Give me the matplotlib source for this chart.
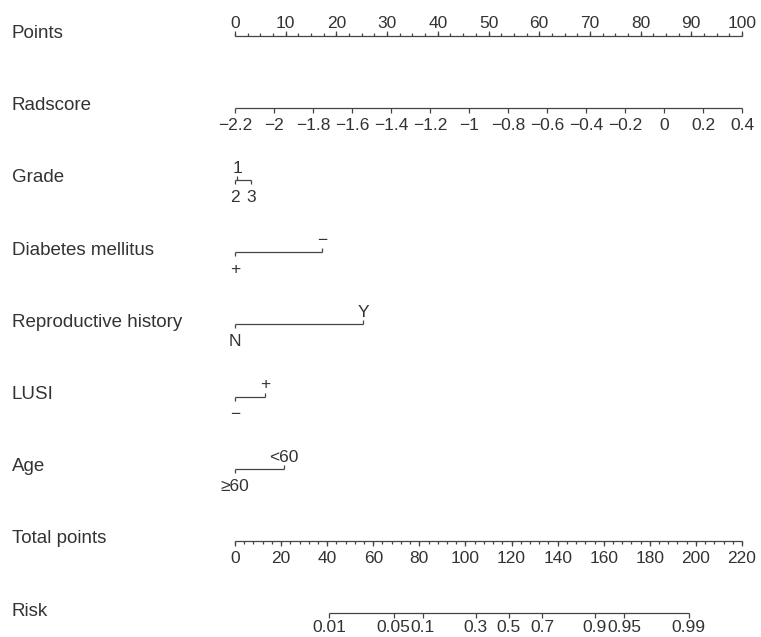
import matplotlib
matplotlib.use('Agg')
import matplotlib.pyplot as plt
import numpy as np

plt.rcParams['font.family'] = ['Liberation Sans', 'DejaVu Sans']

# ── Nomogram data ────────────────────────────────────────────
row_names = ['Points', 'Radscore', 'Grade', 'Diabetes mellitus',
             'Reproductive history', 'LUSI', 'Age', 'Total points', 'Risk']

points_major = np.arange(0, 101, 10)
points_minor = np.arange(0, 100.01, 2.5)

radscore_ticks = [-2.2, -2.0, -1.8, -1.6, -1.4, -1.2, -1.0, -0.8,
                  -0.6, -0.4, -0.2, 0.0, 0.2, 0.4]

grade_labels = ['2', '1', '3']
grade_points = [0, 0.45, 3.2]
diabetes_labels = ['+', '\u2212']
diabetes_points = [0, 17.2]
repro_labels = ['N', 'Y']
repro_points = [0, 25.3]
lusi_labels = ['\u2212', '+']
lusi_points = [0, 5.9]
age_labels = ['\u226560', '<60']
age_points = [0, 9.7]

total_major = np.arange(0, 221, 20)
total_minor = np.arange(0, 221, 4)
total_max = 220

risk_ticks = [0.01, 0.05, 0.1, 0.3, 0.5, 0.7, 0.9, 0.95, 0.99]
risk_intercept = -7.0     # linear predictor = a + b * total points
risk_slope = 0.0589

# ── Layout ───────────────────────────────────────────────────
W, H = 761, 637
X0, X100 = 235, 742           # pixel of 0 and 100 points
px = (X100 - X0) / 100.0
LC = '#444444'
TC = '#333333'
LW = 0.9
FS = 13.5      # row names
FT = 12.5      # tick labels

fig = plt.figure(figsize=(W / 100, H / 100), dpi=100)
ax = fig.add_axes([0, 0, 1, 1])
ax.set_xlim(-X0 / px, (W - X0) / px)
ax.set_ylim(H, 0)
ax.axis('off')

row_y = [35.5 + i * 72.2 for i in range(len(row_names))]
TICK_L = 5
MINOR_L = 3


def hline(x0, x1, y):
    ax.plot([x0, x1], [y, y], color=LC, lw=LW, solid_capstyle='butt')


def tick(x, y, length, up):
    ax.plot([x, x], [y, y - length if up else y + length], color=LC, lw=LW,
            solid_capstyle='butt')


def label(x, y, s, up, below_off=22):
    if up:
        ax.text(x, y - 7, s, ha='center', va='baseline', fontsize=FT, color=TC)
    else:
        ax.text(x, y + below_off, s, ha='center', va='baseline', fontsize=FT, color=TC)


def fmt(v):
    s = f'{round(v, 2):g}'
    if s == '-0':
        s = '0'
    return s.replace('-', '\u2212')


for name, y in zip(row_names, row_y):
    ax.text(12 / W, y - 2, name, transform=ax.get_yaxis_transform(),
            ha='left', va='center', fontsize=FS, color=TC)

# Points
y = row_y[0]
hline(0, 100, y)
for v in points_minor:
    tick(v, y, MINOR_L, True)
for v in points_major:
    tick(v, y, TICK_L, True)
    label(v, y, f'{v:g}', True)

# Radscore
y = row_y[1]
r0, r1 = radscore_ticks[0], radscore_ticks[-1]
hline(0, 100, y)
for v in radscore_ticks:
    x = (v - r0) / (r1 - r0) * 100
    tick(x, y, TICK_L, False)
    label(x, y, fmt(v), False)

# Categorical variables
cats = [(grade_labels, grade_points), (diabetes_labels, diabetes_points),
        (repro_labels, repro_points), (lusi_labels, lusi_points),
        (age_labels, age_points)]
for i, (labs, pts) in enumerate(cats):
    y = row_y[2 + i]
    hline(min(pts), max(pts), y)
    order = np.argsort(pts)
    for k, j in enumerate(order):
        up = k % 2 == 1
        tick(pts[j], y, 4, up)
        label(pts[j], y, labs[j], up)

# Total points
y = row_y[7]
scale = 100.0 / total_max
hline(0, 100, y)
for v in total_minor:
    tick(v * scale, y, MINOR_L, False)
for v in total_major:
    tick(v * scale, y, TICK_L, False)
    label(v * scale, y, f'{v:g}', False)

# Risk
y = row_y[8]
rx = [(np.log(p / (1 - p)) - risk_intercept) / risk_slope * scale for p in risk_ticks]
hline(rx[0], rx[-1], y)
for x, p in zip(rx, risk_ticks):
    tick(x, y, TICK_L, False)
    label(x, y, f'{p:g}', False, below_off=19)

fig.savefig('out.png', dpi=100, facecolor='white')
